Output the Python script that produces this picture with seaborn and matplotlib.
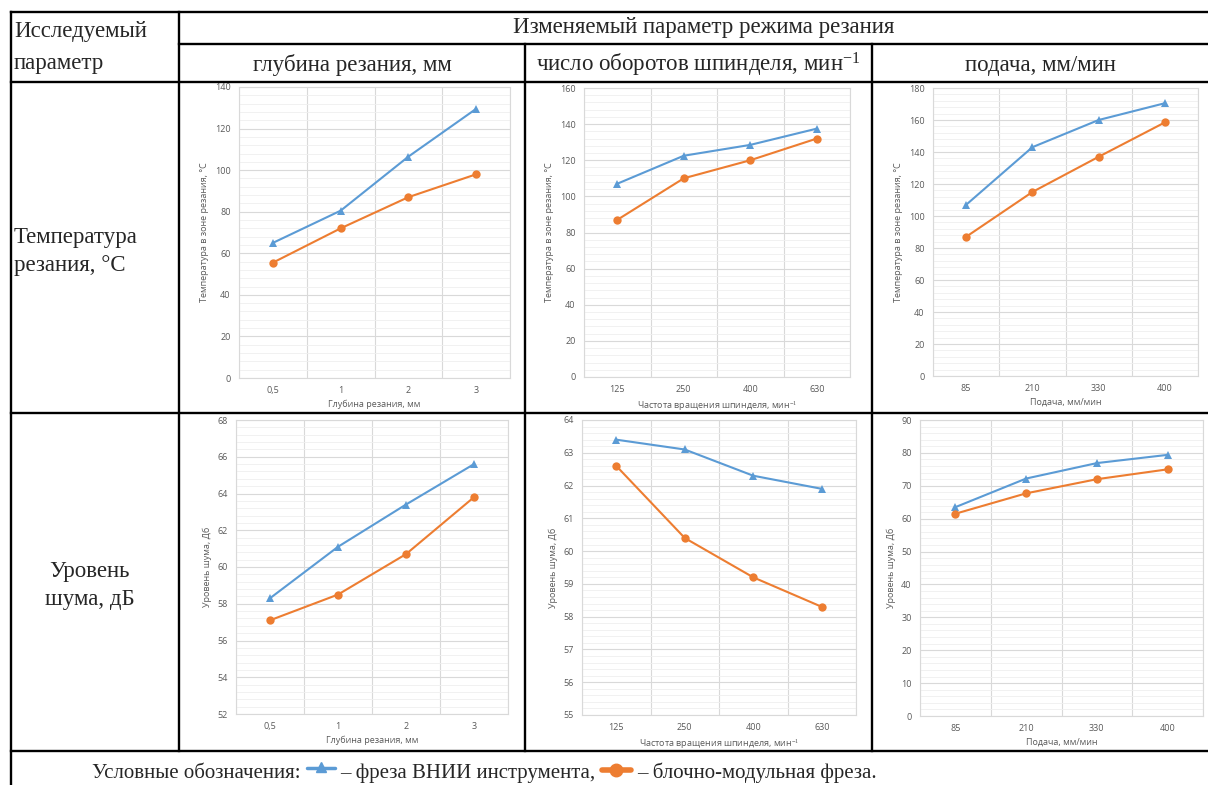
import numpy as np
import pandas as pd
import matplotlib
matplotlib.use("Agg")
import matplotlib.pyplot as plt
from matplotlib.ticker import MultipleLocator
import seaborn as sns

# ---------------- data ----------------
depth_cats = ["0,5", "1", "2", "3"]
speed_cats = ["125", "250", "400", "630"]
feed_cats = ["85", "210", "330", "400"]

temp_depth_vnii = [65, 80.5, 106.5, 129.5]
temp_depth_block = [55.5, 72, 87, 98]
temp_speed_vnii = [107, 122.5, 128.5, 137.5]
temp_speed_block = [87, 110, 120, 132]
temp_feed_vnii = [107, 143, 160, 170.5]
temp_feed_block = [87, 115, 137, 158.5]

noise_depth_vnii = [58.3, 61.1, 63.4, 65.6]
noise_depth_block = [57.1, 58.5, 60.7, 63.8]
noise_speed_vnii = [63.4, 63.1, 62.3, 61.9]
noise_speed_block = [62.6, 60.4, 59.2, 58.3]
noise_feed_vnii = [63.5, 72.2, 76.9, 79.4]
noise_feed_block = [61.5, 67.7, 72.0, 75.0]

series_names = ["фреза ВНИИ инструмента", "блочно-модульная фреза"]

# ---------------- style ----------------
sns.set_style("white")
plt.rcParams["font.family"] = ["Liberation Serif", "DejaVu Serif"]
plt.rcParams["mathtext.fontset"] = "custom"
plt.rcParams["mathtext.rm"] = "Liberation Serif"
plt.rcParams["mathtext.it"] = "Liberation Serif:italic"
plt.rcParams["mathtext.bf"] = "Liberation Serif:bold"

BLUE = "#5B9BD5"
ORANGE = "#ED7D31"
GRID_MAJ = "#d9d9d9"
GRID_MIN = "#efefef"
TXT = "#595959"
CHART_FONT = ["Open Sans", "DejaVu Sans"]

W, H = 1208, 785
fig = plt.figure(figsize=(W / 100, H / 100), dpi=100)

bg = fig.add_axes([0, 0, 1, 1], zorder=0)
bg.set_xlim(0, W)
bg.set_ylim(H, 0)
bg.axis("off")

lw = 1.7
hlines = [(12, 11, W), (44, 179, W), (82, 11, W), (413, 11, W), (751, 11, W)]
vlines = [(11, 12, H), (179, 12, 751), (525, 44, 751), (872, 44, 751)]
for y, x0, x1 in hlines:
    bg.plot([x0, x1], [y, y], color="black", lw=lw, solid_capstyle="projecting")
for x, y0, y1 in vlines:
    bg.plot([x, x], [y0, y1], color="black", lw=lw, solid_capstyle="projecting")

fs = 16.5
bg.text(14, 31, "Исследуемый", fontsize=fs, ha="left", va="center")
bg.text(14, 63, "параметр", fontsize=fs, ha="left", va="center")
bg.text(704, 28, "Изменяемый параметр режима резания", fontsize=fs, ha="center", va="center")
bg.text(352, 65, "глубина резания, мм", fontsize=fs, ha="center", va="center")
bg.text(698, 65, r"число оборотов шпинделя, мин$^{-1}$", fontsize=fs, ha="center", va="center")
bg.text(1040, 65, "подача, мм/мин", fontsize=fs, ha="center", va="center")
bg.text(14, 238, "Температура", fontsize=fs, ha="left", va="center")
bg.text(14, 266, "резания, °С", fontsize=fs, ha="left", va="center")
bg.text(90, 572, "Уровень", fontsize=fs, ha="center", va="center")
bg.text(90, 600, "шума, дБ", fontsize=fs, ha="center", va="center")

# legend row (laid out sequentially)
fs_leg = 15
renderer = fig.canvas.get_renderer()


def put_text(x, s):
    t = bg.text(x, 773, s, fontsize=fs_leg, ha="left", va="center")
    bb = t.get_window_extent(renderer=renderer)
    return x + bb.width


x = put_text(92, "Условные обозначения:")
x += 6
bg.plot([x, x + 28], [768, 768], color=BLUE, lw=2.5)
bg.plot([x + 14], [767], marker="^", color=BLUE, ms=7)
x += 34
x = put_text(x, "– " + series_names[0] + ",")
x += 6
bg.plot([x, x + 29], [770, 770], color=ORANGE, lw=4)
bg.plot([x + 14.5], [770], marker="o", color=ORANGE, ms=9)
x += 35
put_text(x, "– " + series_names[1] + ".")

# ---------------- charts ----------------
panels = [
    ((239, 510, 87, 378), depth_cats, temp_depth_vnii, temp_depth_block, (0, 140), 20,
     "Глубина резания, мм", "Температура в зоне резания, °С"),
    ((584, 850, 88, 377), speed_cats, temp_speed_vnii, temp_speed_block, (0, 160), 20,
     r"Частота вращения шпинделя, мин$^{-1}$", "Температура в зоне резания, °С"),
    ((933, 1198, 88, 376), feed_cats, temp_feed_vnii, temp_feed_block, (0, 180), 20,
     "Подача, мм/мин", "Температура в зоне резания, °С"),
    ((236, 508, 420, 714), depth_cats, noise_depth_vnii, noise_depth_block, (52, 68), 2,
     "Глубина резания, мм", "Уровень шума, Дб"),
    ((582, 856, 420, 715), speed_cats, noise_speed_vnii, noise_speed_block, (55, 64), 1,
     r"Частота вращения шпинделя, мин$^{-1}$", "Уровень шума, Дб"),
    ((920, 1203, 420, 716), feed_cats, noise_feed_vnii, noise_feed_block, (0, 90), 10,
     "Подача, мм/мин", "Уровень шума, Дб"),
]

cfs = 6.5
for (l, r, t, b), cats, v1, v2, ylim, major, xl, yl in panels:
    ax = fig.add_axes([l / W, 1 - b / H, (r - l) / W, (b - t) / H], zorder=2)
    df = pd.DataFrame({
        "x": cats + cats,
        "y": list(v1) + list(v2),
        "s": [series_names[0]] * len(cats) + [series_names[1]] * len(cats),
    })
    sns.lineplot(data=df, x="x", y="y", hue="s", style="s", ax=ax, sort=False,
                 palette=[BLUE, ORANGE], markers=["^", "o"], dashes=False,
                 linewidth=1.5, markersize=6, markeredgewidth=0, legend=False,
                 zorder=3)
    ax.set_xlim(-0.5, len(cats) - 0.5)
    ax.set_ylim(*ylim)
    ax.yaxis.set_major_locator(MultipleLocator(major))
    ax.yaxis.set_minor_locator(MultipleLocator(major / 5))
    ax.set_xticks(np.arange(len(cats) + 1) - 0.5, minor=True)
    ax.grid(which="major", axis="y", color=GRID_MAJ, lw=0.8, zorder=1)
    ax.grid(which="minor", axis="y", color=GRID_MIN, lw=0.6, zorder=0)
    ax.grid(which="minor", axis="x", color=GRID_MAJ, lw=0.8, zorder=1)
    ax.grid(which="major", axis="x", visible=False)
    ax.tick_params(which="both", length=0, labelsize=cfs, labelcolor=TXT, pad=6)
    for lab in ax.get_xticklabels() + ax.get_yticklabels():
        lab.set_family(CHART_FONT)
    for sp in ax.spines.values():
        sp.set_color(GRID_MAJ)
        sp.set_linewidth(0.8)
    ax.set_xlabel(xl, fontsize=cfs, color=TXT, family=CHART_FONT, labelpad=3)
    ax.set_ylabel(yl, fontsize=cfs, color=TXT, family=CHART_FONT, labelpad=4)

fig.savefig("out.png", dpi=100)
